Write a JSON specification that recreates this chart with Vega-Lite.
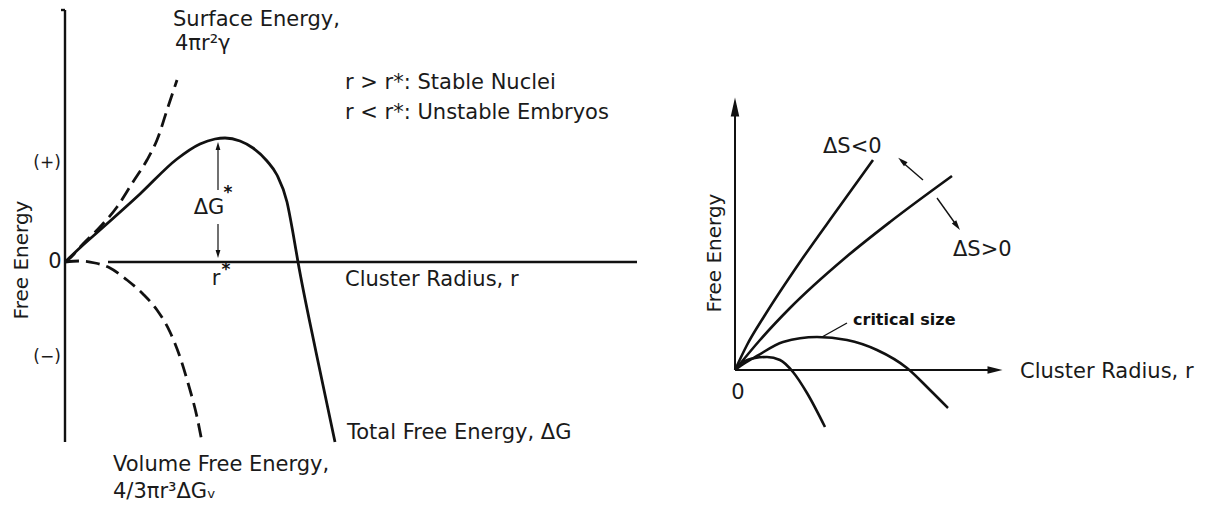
{
  "$schema": "https://vega.github.io/schema/vega-lite/v6.json",
  "padding": 0,
  "spacing": 0,
  "bounds": "flush",
  "background": "white",
  "config": {"view": {"stroke": null}, "font": "DejaVu Sans"},
  "datasets": {
    "surface": [{"r":0,"g":0},{"r":4,"g":3},{"r":18,"g":18},{"r":35,"g":35},{"r":52,"g":55},{"r":68,"g":80},{"r":82,"g":102},{"r":92,"g":122},{"r":103,"g":155},{"r":112,"g":182}],
    "total": [{"r":0,"g":0},{"r":18,"g":17},{"r":35,"g":32},{"r":75,"g":68},{"r":112,"g":103},{"r":135,"g":118},{"r":150,"g":123},{"r":160,"g":124},{"r":175,"g":121},{"r":188,"g":114},{"r":202,"g":101},{"r":212,"g":87},{"r":222,"g":60},{"r":228,"g":29},{"r":233,"g":0},{"r":251,"g":-90},{"r":270,"g":-180}],
    "volume": [{"r":0,"g":0},{"r":15,"g":1},{"r":30,"g":-1},{"r":45,"g":-6},{"r":62,"g":-18},{"r":78,"g":-32},{"r":92,"g":-48},{"r":105,"g":-70},{"r":115,"g":-95},{"r":123,"g":-121},{"r":132,"g":-155},{"r":137,"g":-180}],
    "axesL": [{"r":0,"g":252,"r2":0,"g2":-180},{"r":43,"g":0,"r2":572,"g2":0},{"r":-4,"g":252,"r2":0,"g2":252}],
    "dgLine": [{"r":153,"g":116,"r2":153,"g2":72},{"r":153,"g":38,"r2":153,"g2":8}],
    "dgTop": [{"r":153,"g":116}],
    "dgBottom": [{"r":153,"g":8}],
    "labelsL": [
      {"r":108,"g":242,"label":"Surface Energy,"},
      {"r":110,"g":218,"label":"4πr²γ"},
      {"r":280,"g":179,"label":"r > r*:  Stable Nuclei"},
      {"r":280,"g":149,"label":"r < r*:  Unstable Embryos"},
      {"r":280,"g":-18,"label":"Cluster Radius, r"},
      {"r":282,"g":-171,"label":"Total Free Energy,  ΔG"},
      {"r":48,"g":-203,"label":"Volume Free Energy,"},
      {"r":48,"g":-230,"label":"4/3πr³ΔGᵥ"}
    ],
    "centerL": [
      {"r":-10,"g":0,"label":"0"},
      {"r":144,"g":54,"label":"ΔG"},
      {"r":151,"g":-17,"label":"r"}
    ],
    "starsL": [
      {"r":163,"g":69,"label":"*"},
      {"r":161,"g":-8,"label":"*"}
    ],
    "signsL": [
      {"r":-18,"g":99,"label":"(+)"},
      {"r":-18,"g":-95,"label":"(−)"}
    ],
    "ylabL": [{"r":-43,"g":2,"label":"Free Energy"}],
    "curveA": [{"r":0,"g":0},{"r":12,"g":25},{"r":30,"g":55},{"r":65,"g":108},{"r":102,"g":160},{"r":138,"g":210}],
    "curveB": [{"r":0,"g":0},{"r":25,"g":30},{"r":55,"g":62},{"r":110,"g":112},{"r":155,"g":148},{"r":217,"g":194}],
    "curveC": [{"r":0,"g":0},{"r":10,"g":7},{"r":22,"g":14},{"r":48,"g":28},{"r":82,"g":33},{"r":112,"g":30},{"r":142,"g":20},{"r":172,"g":2},{"r":195,"g":-20},{"r":213,"g":-38}],
    "curveD": [{"r":0,"g":0},{"r":8,"g":8},{"r":20,"g":12},{"r":32,"g":13},{"r":45,"g":10},{"r":58,"g":-2},{"r":72,"g":-23},{"r":90,"g":-57}],
    "axesR": [{"r":0,"g":0,"r2":0,"g2":262},{"r":0,"g":0,"r2":260,"g2":0}],
    "arrowsR": [{"r":112,"g":47,"r2":87,"g2":33},{"r":188,"g":190,"r2":166,"g2":209},{"r":202,"g":172,"r2":222,"g2":144}],
    "headUp": [{"r":0,"g":263}],
    "headRight": [{"r":260,"g":0}],
    "headA1": [{"r":167,"g":209}],
    "headA2": [{"r":222,"g":144}],
    "labelsR": [
      {"r":88,"g":223,"label":"ΔS<0"},
      {"r":218,"g":120,"label":"ΔS>0"},
      {"r":285,"g":-2,"label":"Cluster Radius, r"}
    ],
    "critR": [{"r":118,"g":50,"label":"critical size"}],
    "zeroR": [{"r":3,"g":-23,"label":"0"}],
    "ylabR": [{"r":-20,"g":117,"label":"Free Energy"}]
  },
  "hconcat": [
    {
      "width": 660,
      "height": 512,
      "encoding": {
        "x": {"field": "r", "type": "quantitative", "axis": null, "scale": {"domain": [-65, 595], "nice": false, "zero": false}},
        "y": {"field": "g", "type": "quantitative", "axis": null, "scale": {"domain": [-250, 262], "nice": false, "zero": false}}
      },
      "layer": [
        {"data": {"name": "axesL"}, "mark": {"type": "rule", "color": "#111", "strokeWidth": 2.4},
         "encoding": {"x2": {"field": "r2"}, "y2": {"field": "g2"}}},
        {"data": {"name": "surface"}, "mark": {"type": "line", "color": "#111", "strokeWidth": 2.8, "strokeDash": [14, 7], "interpolate": "monotone"}, "encoding": {}},
        {"data": {"name": "volume"}, "mark": {"type": "line", "color": "#111", "strokeWidth": 2.8, "strokeDash": [14, 7], "interpolate": "monotone"}, "encoding": {}},
        {"data": {"name": "total"}, "mark": {"type": "line", "color": "#111", "strokeWidth": 2.8, "interpolate": "monotone"}, "encoding": {}},
        {"data": {"name": "dgLine"}, "mark": {"type": "rule", "color": "#111", "strokeWidth": 1.2},
         "encoding": {"x2": {"field": "r2"}, "y2": {"field": "g2"}}},
        {"data": {"name": "dgTop"}, "mark": {"type": "point", "shape": "M0,-1L0.6,1L-0.6,1Z", "size": 64, "filled": true, "color": "#111", "opacity": 1}},
        {"data": {"name": "dgBottom"}, "mark": {"type": "point", "shape": "M0,-1L0.6,1L-0.6,1Z", "size": 64, "filled": true, "color": "#111", "opacity": 1, "angle": 180}},
        {"data": {"name": "labelsL"}, "mark": {"type": "text", "align": "left", "baseline": "middle", "fontSize": 21, "color": "#1a1a1a"},
         "encoding": {"text": {"field": "label"}}},
        {"data": {"name": "centerL"}, "mark": {"type": "text", "align": "center", "baseline": "middle", "fontSize": 21, "color": "#1a1a1a"},
         "encoding": {"text": {"field": "label"}}},
        {"data": {"name": "starsL"}, "mark": {"type": "text", "align": "center", "baseline": "middle", "fontSize": 17, "fontWeight": "bold", "color": "#111"},
         "encoding": {"text": {"field": "label"}}},
        {"data": {"name": "signsL"}, "mark": {"type": "text", "align": "center", "baseline": "middle", "fontSize": 17, "color": "#1a1a1a"},
         "encoding": {"text": {"field": "label"}}},
        {"data": {"name": "ylabL"}, "mark": {"type": "text", "align": "center", "baseline": "middle", "fontSize": 20, "angle": 270, "color": "#1a1a1a"},
         "encoding": {"text": {"field": "label"}}}
      ]
    },
    {
      "width": 554,
      "height": 512,
      "encoding": {
        "x": {"field": "r", "type": "quantitative", "axis": null, "scale": {"domain": [-75, 479], "nice": false, "zero": false}},
        "y": {"field": "g", "type": "quantitative", "axis": null, "scale": {"domain": [-142, 370], "nice": false, "zero": false}}
      },
      "layer": [
        {"data": {"name": "axesR"}, "mark": {"type": "rule", "color": "#111", "strokeWidth": 2},
         "encoding": {"x2": {"field": "r2"}, "y2": {"field": "g2"}}},
        {"data": {"name": "arrowsR"}, "mark": {"type": "rule", "color": "#111", "strokeWidth": 1.4},
         "encoding": {"x2": {"field": "r2"}, "y2": {"field": "g2"}}},
        {"data": {"name": "curveA"}, "mark": {"type": "line", "color": "#111", "strokeWidth": 2.6, "interpolate": "monotone"}, "encoding": {}},
        {"data": {"name": "curveB"}, "mark": {"type": "line", "color": "#111", "strokeWidth": 2.6, "interpolate": "monotone"}, "encoding": {}},
        {"data": {"name": "curveC"}, "mark": {"type": "line", "color": "#111", "strokeWidth": 2.6, "interpolate": "monotone"}, "encoding": {}},
        {"data": {"name": "curveD"}, "mark": {"type": "line", "color": "#111", "strokeWidth": 2.6, "interpolate": "monotone"}, "encoding": {}},
        {"data": {"name": "headUp"}, "mark": {"type": "point", "shape": "M0,-1L0.45,1L-0.45,1Z", "size": 361, "filled": true, "color": "#111", "opacity": 1}},
        {"data": {"name": "headRight"}, "mark": {"type": "point", "shape": "M0,-1L0.5,1L-0.5,1Z", "size": 225, "filled": true, "color": "#111", "opacity": 1, "angle": 90}},
        {"data": {"name": "headA1"}, "mark": {"type": "point", "shape": "M0,-1L0.55,1L-0.55,1Z", "size": 100, "filled": true, "color": "#111", "opacity": 1, "angle": 311}},
        {"data": {"name": "headA2"}, "mark": {"type": "point", "shape": "M0,-1L0.55,1L-0.55,1Z", "size": 100, "filled": true, "color": "#111", "opacity": 1, "angle": 144}},
        {"data": {"name": "labelsR"}, "mark": {"type": "text", "align": "left", "baseline": "middle", "fontSize": 21, "color": "#1a1a1a"},
         "encoding": {"text": {"field": "label"}}},
        {"data": {"name": "critR"}, "mark": {"type": "text", "align": "left", "baseline": "middle", "fontSize": 16, "fontWeight": "bold", "color": "#111"},
         "encoding": {"text": {"field": "label"}}},
        {"data": {"name": "zeroR"}, "mark": {"type": "text", "align": "center", "baseline": "middle", "fontSize": 21, "color": "#1a1a1a"},
         "encoding": {"text": {"field": "label"}}},
        {"data": {"name": "ylabR"}, "mark": {"type": "text", "align": "center", "baseline": "middle", "fontSize": 20, "angle": 270, "color": "#1a1a1a"},
         "encoding": {"text": {"field": "label"}}}
      ]
    }
  ]
}
